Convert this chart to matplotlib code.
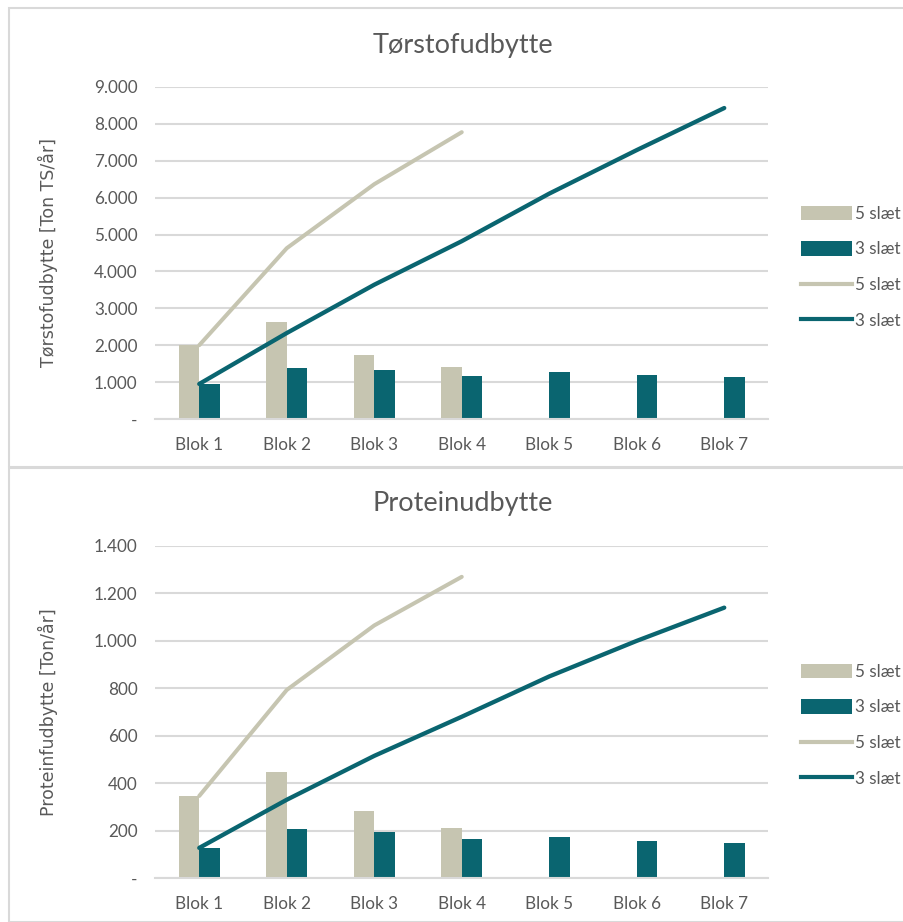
import matplotlib
matplotlib.use("Agg")
import matplotlib.pyplot as plt
import numpy as np
from matplotlib.patches import Rectangle, Patch
from matplotlib.lines import Line2D

categories = ["Blok 1", "Blok 2", "Blok 3", "Blok 4", "Blok 5", "Blok 6", "Blok 7"]

# Top chart: Tørstofudbytte
ts_bar_5 = [2000, 2630, 1735, 1410]
ts_bar_3 = [950, 1380, 1330, 1165, 1275, 1190, 1140]
ts_line_5 = [2000, 4630, 6365, 7775]
ts_line_3 = [950, 2330, 3640, 4820, 6110, 7290, 8430]
ts_ticks = [0, 1000, 2000, 3000, 4000, 5000, 6000, 7000, 8000, 9000]

# Bottom chart: Proteinudbytte
pr_bar_5 = [346, 447, 283, 211]
pr_bar_3 = [127, 207, 194, 164, 173, 156, 148]
pr_line_5 = [346, 793, 1065, 1270]
pr_line_3 = [127, 330, 515, 680, 850, 1000, 1140]
pr_ticks = [0, 200, 400, 600, 800, 1000, 1200, 1400]

labels = ["5 slæt", "3 slæt", "5 slæt", "3 slæt"]

BEIGE = "#C6C5B1"
TEAL = "#0A6570"
GRID = "#D9D9D9"
TXT = "#595959"
FONT = "Lato"
TICK_FS = 12.3

fig = plt.figure(figsize=(9.04, 9.22), dpi=100)

# Chart frames
for (y0, y1) in [(8, 467), (468, 922)]:
    fig.patches.append(Rectangle((9 / 904, 1 - y1 / 922), 1.2, (y1 - y0) / 922,
                                 transform=fig.transFigure, fill=False,
                                 edgecolor="#D9D9D9", linewidth=1.5))


def fmt(v):
    if v == 0:
        return "-"
    return f"{v:,.0f}".replace(",", ".")


def draw(ax_rect, title, ylabel, bar5, bar3, line5, line3, ticks, title_y, leg_y):
    ax = fig.add_axes(ax_rect)
    x = np.arange(len(categories))
    w = 0.235
    ax.bar(x[:len(bar5)] - w / 2, bar5, width=w, color=BEIGE, zorder=2)
    ax.bar(x - w / 2 + w, bar3, width=w, color=TEAL, zorder=2)
    ax.plot(x[:len(line5)], line5, color=BEIGE, linewidth=2.9, zorder=3,
            solid_capstyle="round")
    ax.plot(x, line3, color=TEAL, linewidth=3.1, zorder=4, solid_capstyle="round")
    ax.set_xlim(-0.5, len(categories) - 0.5)
    ax.set_ylim(ticks[0], ticks[-1])
    ax.set_yticks(ticks)
    ax.set_yticklabels([fmt(t) for t in ticks], fontsize=TICK_FS, color=TXT, family=FONT)
    ax.set_xticks(x)
    ax.set_xticklabels(categories, fontsize=TICK_FS, color=TXT, family=FONT)
    ax.tick_params(axis="both", length=0)
    ax.tick_params(axis="x", pad=13)
    ax.tick_params(axis="y", pad=13)
    for s in ["top", "right", "left"]:
        ax.spines[s].set_visible(False)
    ax.spines["bottom"].set_color(GRID)
    ax.spines["bottom"].set_linewidth(1.5)
    ax.grid(axis="y", color=GRID, linewidth=1.5, zorder=0)
    ax.set_axisbelow(True)
    ax.set_ylabel(ylabel, fontsize=12.5, color=TXT, family="DejaVu Sans")
    ax.yaxis.set_label_coords((58 - 155.5) / 612.5, 0.5)
    fig.text(463 / 904, 1 - title_y / 922, title, ha="center", va="center",
             fontsize=19.5, color=TXT, family=FONT)
    handles = [Patch(facecolor=BEIGE), Patch(facecolor=TEAL),
               Line2D([], [], color=BEIGE, linewidth=3), Line2D([], [], color=TEAL, linewidth=3)]
    fig.legend(handles, labels, loc="upper left",
               bbox_to_anchor=(794 / 904, 1 - leg_y / 922), frameon=False,
               prop={"family": FONT, "size": 12.3}, labelcolor=TXT,
               handlelength=3.0, handleheight=0.9, handletextpad=0.2,
               labelspacing=1.15, borderaxespad=0)
    return ax


draw([155.5 / 904, 1 - 419 / 922, 612.5 / 904, 332 / 922], "Tørstofudbytte",
     "Tørstofudbytte [Ton TS/år]", ts_bar_5, ts_bar_3, ts_line_5, ts_line_3,
     ts_ticks, 45, 199)
draw([155.5 / 904, 1 - 878 / 922, 612.5 / 904, 332 / 922], "Proteinudbytte",
     "Proteinfudbytte [Ton/år]", pr_bar_5, pr_bar_3, pr_line_5, pr_line_3,
     pr_ticks, 503, 657)

fig.savefig("out.png", dpi=100)
